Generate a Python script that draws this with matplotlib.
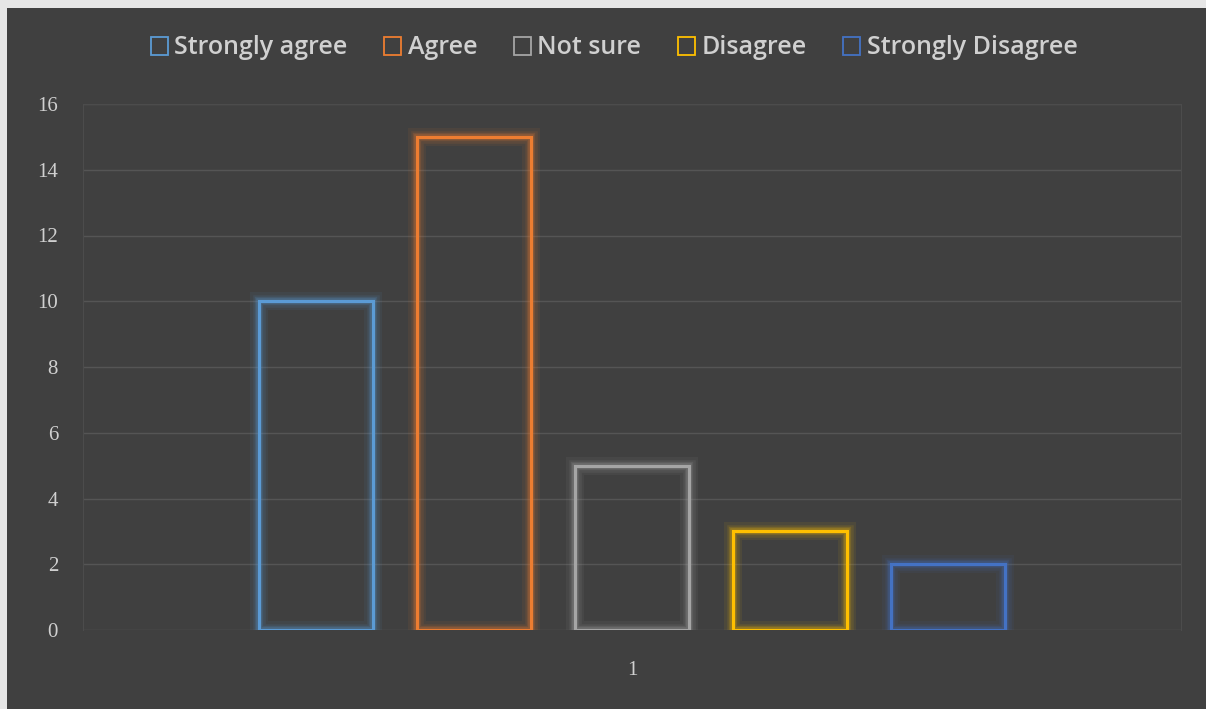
import matplotlib as mpl
mpl.use('Agg')
import numpy as np
import matplotlib.pyplot as plt
from matplotlib.patches import Rectangle

categories = ['1']
series = ['Strongly agree', 'Agree', 'Not sure', 'Disagree', 'Strongly Disagree']
values = [10, 15, 5, 3, 2]
colors = ['#5B9BD5', '#ED7D31', '#A5A5A5', '#FFC000', '#4472C4']
yticks = [0, 2, 4, 6, 8, 10, 12, 14, 16]

bg = '#404040'
text_col = '#d0d0d0'

fig = plt.figure(figsize=(12.06, 7.09), dpi=100)
fig.patch.set_facecolor('#e6e6e6')
# dark chart panel, leaving a thin light margin on the left and top
fig.patches.append(Rectangle((7 / 1206, 0), 1, 1 - 8 / 709, transform=fig.transFigure,
                             facecolor=bg, edgecolor='none', zorder=-10))

ax = fig.add_axes([83 / 1206, 1 - 630 / 709, 1098 / 1206, 526 / 709])
ax.set_facecolor(bg)

step = 0.144
width = 0.104
offsets = (np.arange(len(series)) - (len(series) - 1) / 2) * step
handles = []
for off, val, col, name in zip(offsets, values, colors, series):
    # soft glow around each outline
    for lw, a in [(13, 0.07), (9, 0.10), (6, 0.16), (4, 0.22)]:
        ax.bar(off, val, width, facecolor='none', edgecolor=col, linewidth=lw,
               alpha=a, zorder=2)
    h = ax.bar(off, val, width, facecolor='none', edgecolor=col, linewidth=2.2,
               zorder=3, label=name)
    handles.append(h)

ax.set_xlim(-0.5, 0.5)
ax.set_ylim(0, 16)
ax.set_yticks(yticks)
ax.set_xticks([0])
ax.set_xticklabels(categories)
ax.yaxis.grid(True, color='#555555', linewidth=1)
ax.set_axisbelow(True)
ax.tick_params(length=0, colors=text_col, labelsize=15, pad=18)
ax.tick_params(axis='x', pad=22)
for lbl in ax.get_xticklabels() + ax.get_yticklabels():
    lbl.set_family('Liberation Serif')
for side in ['left', 'top', 'right']:
    ax.spines[side].set_color('#4c4c4c')
ax.spines['bottom'].set_visible(False)

leg = fig.legend(handles=handles, labels=series, loc='center', ncol=5,
                 bbox_to_anchor=(614 / 1206, 1 - 48 / 709), frameon=False,
                 prop={'family': 'Open Sans', 'size': 18, 'weight': 'semibold'},
                 handlelength=0.7, handleheight=0.7, handletextpad=0.25,
                 columnspacing=1.45, labelcolor=text_col)
for p in leg.get_patches():
    p.set_linewidth(1.3)

fig.savefig('out.png', dpi=100, facecolor=fig.get_facecolor())
